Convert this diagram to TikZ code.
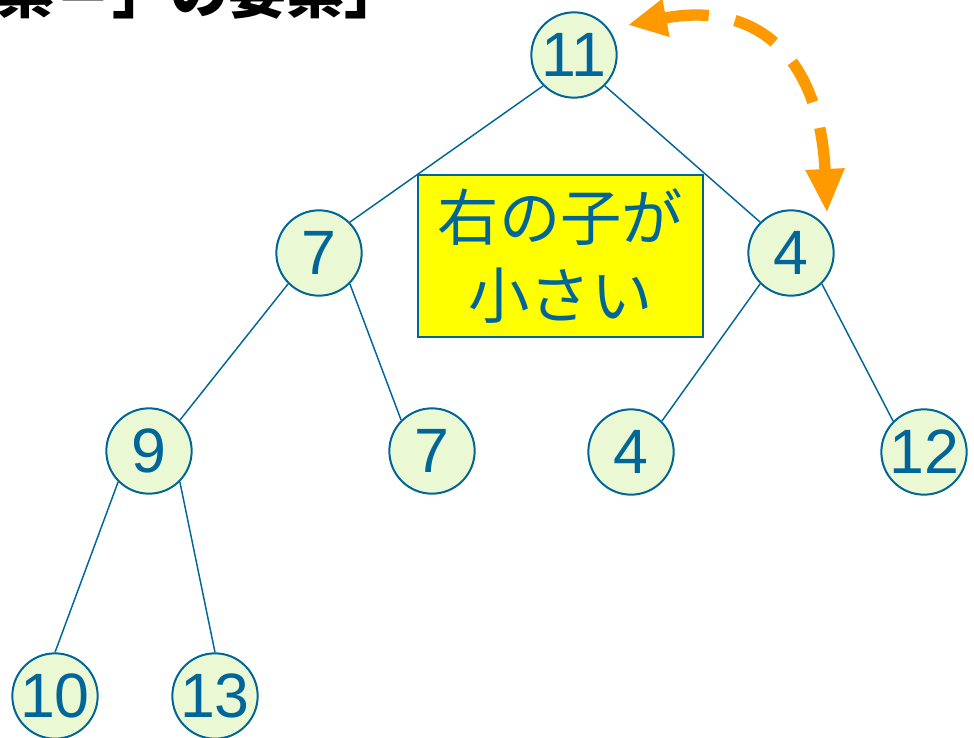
\documentclass[tikz,border=0pt]{standalone}
\usepackage{fontspec}
\usetikzlibrary{arrows.meta}
\newfontfamily\numfont{Liberation Sans}
\newfontfamily\jpfont{Noto Sans CJK JP}
\definecolor{nodeblue}{RGB}{0,102,153}
\definecolor{nodefill}{RGB}{235,248,212}
\definecolor{arroworange}{RGB}{255,153,0}
\definecolor{noteyellow}{RGB}{255,255,0}
\begin{document}
\begin{tikzpicture}[x=0.75pt,y=-0.75pt,
 heapnode/.style={circle, draw=nodeblue, line width=1.5pt, fill=nodefill, minimum size=64pt, inner sep=-10pt, text=nodeblue, font=\numfont\fontsize{47}{47}\selectfont},
 edge/.style={draw=nodeblue, line width=1.1pt},
 swaparrow/.style={draw=arroworange, line width=8.5pt, dash pattern=on 34pt off 20pt, {Triangle[length=29pt,width=27pt]}-{Triangle[length=33pt,width=27pt]}},
 note/.style={draw=nodeblue, line width=1.5pt, fill=noteyellow, minimum width=213.75pt, minimum height=121.5pt, inner sep=0pt, align=center, text=nodeblue, font=\jpfont\fontsize{46}{58}\selectfont},
 titletext/.style={anchor=base west, inner sep=0pt, font=\jpfont\bfseries\fontsize{43.5}{44}\selectfont}]
\useasboundingbox (0,0) rectangle (974,738);
\clip (0,0) rectangle (974,738);
\node[titletext] (title) at (-4,14) {素＝」の要素」};
\node[note] (box) at (560.5,256) {右の子が\\小さい};
\node[heapnode] (n11) at (574,55) {11};
\node[heapnode] (n7a) at (319,253) {7};
\node[heapnode] (n4a) at (791,253) {4};
\node[heapnode] (n9) at (149,451) {9};
\node[heapnode] (n7b) at (432,451) {7};
\node[heapnode] (n4b) at (631,452) {4};
\node[heapnode] (n12) at (924,452) {12};
\node[heapnode] (n10) at (55,696) {10};
\node[heapnode] (n13) at (215,696) {13};
\draw[edge] (n11.south west) -- (n7a.north east);
\draw[edge] (n11.south east) -- (n4a.north west);
\draw[edge] (n7a.south west) -- (n9.north east);
\draw[edge] (n7a.south east) -- (n7b.north west);
\draw[edge] (n4a.south west) -- (n4b.north east);
\draw[edge] (n4a.south east) -- (n12.north west);
\draw[edge] (n9.south west) -- (n10.north);
\draw[edge] (n9.south east) -- (n13.north);
\coordinate (tipL) at (628,25);
\coordinate (tipR) at (827,213);
\draw[swaparrow] (tipL) .. controls (760,0) and (820,60) .. (tipR);
\end{tikzpicture}
\end{document}
